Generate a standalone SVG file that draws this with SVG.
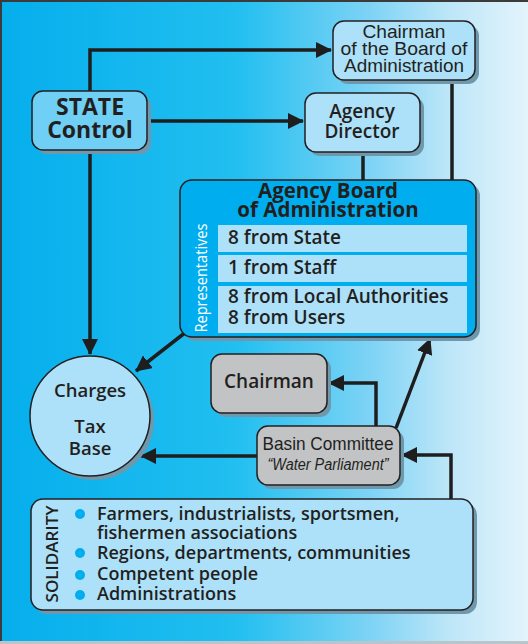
<svg xmlns="http://www.w3.org/2000/svg" width="528" height="644" viewBox="0 0 528 644">
<defs>
<linearGradient id="bg" x1="0" y1="0" x2="1" y2="0">
<stop offset="0" stop-color="#05aeec"/>
<stop offset="0.45" stop-color="#22bff0"/>
<stop offset="0.7" stop-color="#7dd3f5"/>
<stop offset="0.85" stop-color="#bde6f8"/>
<stop offset="1" stop-color="#e3f4fc"/>
</linearGradient>
<marker id="arr" markerUnits="userSpaceOnUse" markerWidth="16" markerHeight="16" refX="15" refY="8" orient="auto" viewBox="0 0 16 16">
<path d="M0,0 L16,8 L0,16 z" fill="#1e1e1e"/>
</marker>
<style>
.t{font-family:"Open Sans","Liberation Sans",sans-serif;fill:#231f20;text-anchor:middle;font-weight:600}
.s{text-anchor:start}
.r{font-weight:400}
.w{fill:#ffffff}
.c{font-family:"Liberation Sans","Open Sans",sans-serif;fill:#231f20;text-anchor:middle}
.box{stroke:#231f20;stroke-width:1.5}
.lt{fill:#ade1f9}
.gy{fill:#c1c3c5}
.sh{fill:#6f98ad}
.ln{fill:none;stroke:#1e1e1e;stroke-width:3.5}
.row{fill:#ade1f9}
</style>
</defs>
<rect x="0" y="0" width="528" height="644" fill="url(#bg)"/>
<rect x="0" y="0" width="528" height="2" fill="#3b3b3b"/>
<rect x="0" y="0" width="2" height="644" fill="#3b3b3b"/>
<rect x="0" y="641" width="528" height="3" fill="#b9c5cb"/>

<g id="connectors">
<polyline class="ln" points="90,91 90,50 331,50" marker-end="url(#arr)"/>
<line class="ln" x1="147" y1="121" x2="303" y2="121" marker-end="url(#arr)"/>
<line class="ln" x1="90" y1="150" x2="90" y2="354" marker-end="url(#arr)"/>
<line class="ln" x1="363" y1="152" x2="363" y2="181"/>
<line class="ln" x1="452" y1="80" x2="452" y2="181"/>
<line class="ln" x1="186" y1="332" x2="136" y2="371" marker-end="url(#arr)"/>
<polyline class="ln" points="376,426 376,383 329,383" marker-end="url(#arr)"/>
<line class="ln" x1="396" y1="428" x2="430" y2="339" marker-end="url(#arr)"/>
<line class="ln" x1="257" y1="456" x2="141" y2="456" marker-end="url(#arr)"/>
<polyline class="ln" points="451,499 451,455 402,455" marker-end="url(#arr)"/>
</g>

<g id="chairman-board">
<rect class="sh" x="337" y="25" width="142" height="59" rx="11"/>
<rect class="box lt" x="333" y="21" width="142" height="59" rx="11"/>
<text class="c" font-size="19"><tspan x="404" y="38" textLength="83" lengthAdjust="spacingAndGlyphs">Chairman</tspan><tspan x="404" y="55" textLength="127" lengthAdjust="spacingAndGlyphs">of the Board of</tspan><tspan x="404" y="72" textLength="120" lengthAdjust="spacingAndGlyphs">Administration</tspan></text>
</g>

<g id="state">
<rect class="sh" x="36" y="95" width="115" height="59" rx="11"/>
<rect class="box" fill="#6fcff5" x="32" y="91" width="115" height="59" rx="11"/>
<text class="t" font-size="23" style="font-weight:700"><tspan x="90" y="115">STATE</tspan><tspan x="90" y="138">Control</tspan></text>
</g>

<g id="director">
<rect class="sh" x="309" y="97" width="115" height="59" rx="11"/>
<rect class="box lt" x="305" y="93" width="115" height="59" rx="11"/>
<text class="t" font-size="19"><tspan x="362" y="118">Agency</tspan><tspan x="362" y="138">Director</tspan></text>
</g>

<g id="board">
<rect class="sh" x="184" y="184" width="296" height="157" rx="12"/>
<rect class="box" fill="#00adee" x="180" y="180" width="296" height="157" rx="12"/>
<text class="t" font-size="20.5" style="font-weight:700"><tspan x="328" y="198">Agency Board</tspan><tspan x="328" y="217">of Administration</tspan></text>
<rect class="row" x="218" y="225" width="249" height="27"/>
<rect class="row" x="218" y="255" width="249" height="27"/>
<rect class="row" x="218" y="286" width="249" height="47"/>
<text class="t s" x="228" y="244" font-size="19">8 from State</text>
<text class="t s" x="228" y="274" font-size="19">1 from Staff</text>
<text class="t s" font-size="19"><tspan x="228" y="303">8 from Local Authorities</tspan><tspan x="228" y="324">8 from Users</tspan></text>
<text class="t r w" x="0" y="0" font-size="16" textLength="109" lengthAdjust="spacingAndGlyphs" transform="translate(207,278) rotate(-90)">Representatives</text>
</g>

<g id="charges">
<circle class="sh" cx="94" cy="420" r="60"/>
<circle class="box lt" cx="90" cy="416" r="60"/>
<text class="t" x="90" y="397" font-size="18.5">Charges</text>
<text class="t" font-size="18.5"><tspan x="90" y="433">Tax</tspan><tspan x="90" y="455">Base</tspan></text>
</g>

<g id="chairman">
<rect class="sh" x="215" y="358" width="116" height="59" rx="11"/>
<rect class="box gy" x="211" y="354" width="116" height="59" rx="11"/>
<text class="t" x="269" y="388" font-size="19">Chairman</text>
</g>

<g id="basin">
<rect class="sh" x="261" y="430" width="143" height="59" rx="11"/>
<rect class="box gy" x="257" y="426" width="143" height="59" rx="11"/>
<text class="c" font-size="19"><tspan x="328" y="450" textLength="131" lengthAdjust="spacingAndGlyphs">Basin Committee</tspan><tspan x="328" y="470" font-size="16" font-style="italic" textLength="121" lengthAdjust="spacingAndGlyphs">“Water Parliament”</tspan></text>
</g>

<g id="solidarity">
<rect class="sh" x="35" y="503" width="442" height="111" rx="12"/>
<rect class="box lt" x="31" y="499" width="442" height="111" rx="12"/>
<text class="t" x="0" y="0" font-size="16" textLength="97" lengthAdjust="spacingAndGlyphs" transform="translate(58,554) rotate(-90)">SOLIDARITY</text>
<g fill="#00adee">
<circle cx="80" cy="514" r="5"/>
<circle cx="80" cy="553" r="5"/>
<circle cx="80" cy="575" r="5"/>
<circle cx="80" cy="595" r="5"/>
</g>
<text class="t s" font-size="18"><tspan x="97" y="520">Farmers, industrialists, sportsmen,</tspan><tspan x="97" y="539">fishermen associations</tspan><tspan x="97" y="559">Regions, departments, communities</tspan><tspan x="97" y="580">Competent people</tspan><tspan x="97" y="600">Administrations</tspan></text>
</g>
</svg>
